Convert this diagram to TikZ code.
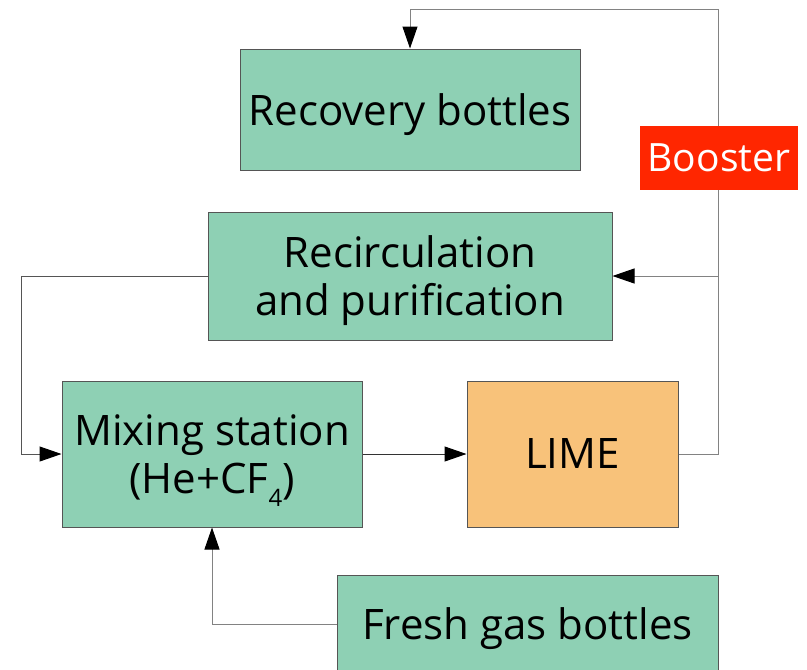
\documentclass[tikz,border=0pt]{standalone}
\usepackage{fontspec}
\setmainfont{Open Sans}
\usetikzlibrary{arrows.meta}
\definecolor{boxgreen}{RGB}{142,208,180}
\definecolor{boxorange}{RGB}{248,194,122}
\definecolor{boosterred}{RGB}{255,38,0}
\definecolor{edgegray}{RGB}{85,85,85}
\definecolor{linegray}{RGB}{130,130,130}
\tikzset{
  blk/.style={draw=edgegray, line width=1pt, fill=boxgreen, align=center, inner sep=0pt,
    font=\fontsize{42}{48}\selectfont},
  conn/.style={draw=linegray, line width=1pt},
  arr/.style={conn, -{Triangle[length=22pt,width=15pt,fill=black,color=black]}},
}
\begin{document}
\begin{tikzpicture}[x=1pt,y=-1pt]
\useasboundingbox (0,0) rectangle (807,670);
\clip (0,0) rectangle (807,670);
\node[blk, text depth=0pt, minimum width=340pt, minimum height=121pt] (rec) at (410,109.5) {Recovery bottles};
\node[blk, text depth=0pt, minimum width=404pt, minimum height=128pt] (recirc) at (410,276) {Recirculation\\and purification};
\node[blk, text depth=0pt, minimum width=300pt, minimum height=146pt] (mix) at (212,454) {Mixing station\\(He+CF\raisebox{-0.32em}{\fontsize{24}{24}\selectfont 4})};
\node[blk, fill=boxorange, minimum width=211pt, minimum height=146pt] (lime) at (572.5,454) {LIME};
\node[blk, text depth=0pt, minimum width=381pt, minimum height=98pt] (fresh) at (527.5,624) {Fresh gas bottles};
\coordinate (tr) at (718,9);
\coordinate (tl) at (410,9);
\coordinate (lx) at (21,276);
\draw[arr] (lime.east) -- (lime.east -| tr) -- (tr) -- (tl) -- (rec.north);
\draw[arr] (recirc.east -| tr) -- (recirc.east);
\draw[arr, draw=edgegray] (recirc.west) -- (lx) |- (mix.west);
\draw[arr, draw=black!80] (mix.east) -- (lime.west);
\draw[arr] (fresh.west) -| (mix.south);
\node[fill=boosterred, text=white, inner sep=0pt, minimum width=158pt, minimum height=64pt,
  font=\fontsize{39}{47}\selectfont] (boost) at (719,158) {Booster};
\end{tikzpicture}
\end{document}
